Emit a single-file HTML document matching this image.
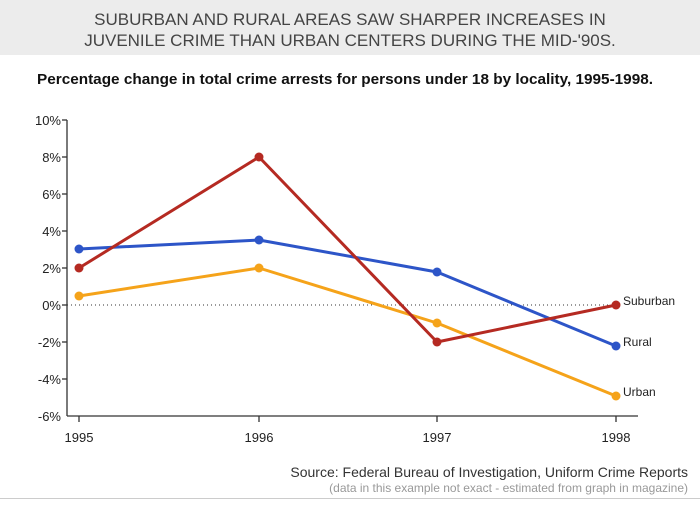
<!DOCTYPE html>
<html><head><style>
body{margin:0;width:700px;height:500px;background:#fff;font-family:"Liberation Sans",sans-serif;overflow:hidden}
</style></head><body>
<svg width="700" height="500" xmlns="http://www.w3.org/2000/svg" font-family="Liberation Sans, sans-serif">
<rect x="0" y="0" width="700" height="55" fill="#ececec"/>
<text x="350" y="25" text-anchor="middle" font-size="17" fill="#444">SUBURBAN AND RURAL AREAS SAW SHARPER INCREASES IN</text>
<text x="350" y="46" text-anchor="middle" font-size="17" fill="#444">JUVENILE CRIME THAN URBAN CENTERS DURING THE MID-'90S.</text>
<text x="37" y="84" font-size="15" font-weight="bold" fill="#111" textLength="616" lengthAdjust="spacingAndGlyphs">Percentage change in total crime arrests for persons under 18 by locality, 1995-1998.</text>
<g stroke="#333" stroke-width="1.3" fill="none">
<line x1="67" y1="120" x2="67" y2="416"/>
<line x1="67" y1="416" x2="638" y2="416"/>
<line x1="62" y1="120" x2="67" y2="120"/><line x1="62" y1="157" x2="67" y2="157"/><line x1="62" y1="194" x2="67" y2="194"/><line x1="62" y1="231" x2="67" y2="231"/><line x1="62" y1="268" x2="67" y2="268"/><line x1="62" y1="305" x2="67" y2="305"/><line x1="62" y1="342" x2="67" y2="342"/><line x1="62" y1="379" x2="67" y2="379"/>
<line x1="79" y1="416" x2="79" y2="422"/><line x1="259" y1="416" x2="259" y2="422"/><line x1="437" y1="416" x2="437" y2="422"/><line x1="616" y1="416" x2="616" y2="422"/>
</g>
<line x1="67" y1="305" x2="616" y2="305" stroke="#333" stroke-dasharray="1,3"/>
<g font-size="13" fill="#222" text-anchor="end">
<text x="61" y="125">10%</text><text x="61" y="162">8%</text><text x="61" y="199">6%</text><text x="61" y="236">4%</text><text x="61" y="273">2%</text><text x="61" y="310">0%</text><text x="61" y="347">-2%</text><text x="61" y="384">-4%</text><text x="61" y="421">-6%</text>
</g>
<g font-size="13" fill="#222" text-anchor="middle">
<text x="79" y="442">1995</text><text x="259" y="442">1996</text><text x="437" y="442">1997</text><text x="616" y="442">1998</text>
</g>
<g stroke-width="3" fill="none" stroke-linejoin="round">
<polyline points="79,296 259,268 437,323 616,396" stroke="#f5a31a"/>
<polyline points="79,249 259,240 437,272 616,346" stroke="#2d55c8"/>
<polyline points="79,268 259,157 437,342 616,305" stroke="#b52a22"/>
</g>
<g fill="#f5a31a"><circle cx="79" cy="296" r="4.5"/><circle cx="259" cy="268" r="4.5"/><circle cx="437" cy="323" r="4.5"/><circle cx="616" cy="396" r="4.5"/></g>
<g fill="#2d55c8"><circle cx="79" cy="249" r="4.5"/><circle cx="259" cy="240" r="4.5"/><circle cx="437" cy="272" r="4.5"/><circle cx="616" cy="346" r="4.5"/></g>
<g fill="#b52a22"><circle cx="79" cy="268" r="4.5"/><circle cx="259" cy="157" r="4.5"/><circle cx="437" cy="342" r="4.5"/><circle cx="616" cy="305" r="4.5"/></g>
<g font-size="12" fill="#222">
<text x="623" y="305">Suburban</text><text x="623" y="346">Rural</text><text x="623" y="396">Urban</text>
</g>
<text x="688" y="477" text-anchor="end" font-size="14" fill="#333">Source: Federal Bureau of Investigation, Uniform Crime Reports</text>
<text x="688" y="492" text-anchor="end" font-size="12" fill="#999">(data in this example not exact - estimated from graph in magazine)</text>
<line x1="0" y1="498.5" x2="700" y2="498.5" stroke="#ccc"/>
</svg>
</body></html>
